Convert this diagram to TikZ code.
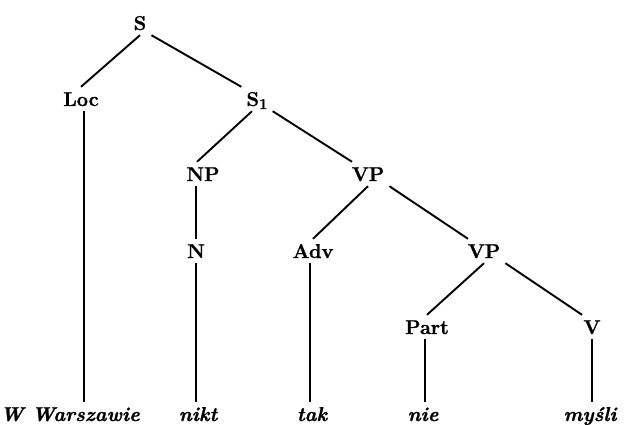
\documentclass[tikz,border=0pt]{standalone}
\usepackage{fontspec}
\setmainfont{Latin Modern Roman}[BoldFeatures={FakeBold=1.2},BoldItalicFeatures={FakeBold=1.2}]
\begin{document}
\begin{tikzpicture}[x=1pt,y=-1pt,
  cat/.style={font=\fontsize{20}{24}\selectfont\bfseries, text height=14pt, text depth=0pt, inner sep=5pt, anchor=center},
  word/.style={font=\fontsize{20}{24}\selectfont\bfseries\itshape, text height=14pt, text depth=0pt, inner sep=5pt, anchor=base},
  edge/.style={line width=1.9pt}]
\useasboundingbox (0,0) rectangle (626,425);
% categories
\node[cat] (S)    at (140,23)  {S};
\node[cat] (Loc)  at (81,99)   {Loc};
\node[cat] (S1)   at (257,99)  {S\raisebox{-3pt}{\fontsize{15}{15}\selectfont 1}};
\node[cat] (NP)   at (203,174) {NP};
\node[cat] (VP)   at (368,174) {VP};
\node[cat] (N)    at (196,251) {N};
\node[cat] (Adv)  at (313,251) {Adv};
\node[cat] (VP2)  at (484,251) {VP};
\node[cat] (Part) at (427,327) {Part};
\node[cat] (V)    at (592,327) {V};
% words
\node[word] (w1) at (70,421)  {W Warszawie};
\node[word] (w2) at (198,421) {nikt};
\node[word] (w3) at (312,421) {tak};
\node[word] (w4) at (423,421) {nie};
\node[word] (w5) at (590,421) {myśli};
% edges
\draw[edge] (S.south) -- (Loc.north);
\draw[edge] (S.south east) -- (S1.north west);
\draw[edge] ([xshift=3pt]Loc.south) -- ([xshift=3pt]Loc.south |- w1.north);
\draw[edge] ([xshift=-5pt]S1.south) -- ([xshift=-6pt]NP.north);
\draw[edge] (S1.south east) -- ([xshift=-16pt]VP.north);
\draw[edge] (N.north |- NP.south) -- (N.north);
\draw[edge] (VP.south) -- (Adv.north);
\draw[edge] (VP.south east) -- ([xshift=-16pt]VP2.north);
\draw[edge] (N.south) -- (N.south |- w2.north);
\draw[edge] ([xshift=-3pt]Adv.south) -- ([xshift=-3pt]Adv.south |- w3.north);
\draw[edge] (VP2.south) -- (Part.north);
\draw[edge] (VP2.south east) -- ([xshift=-10pt]V.north);
\draw[edge] ([xshift=-2pt]Part.south) -- ([xshift=-2pt]Part.south |- w4.north);
\draw[edge] (V.south) -- (V.south |- w5.north);
\end{tikzpicture}
\end{document}
